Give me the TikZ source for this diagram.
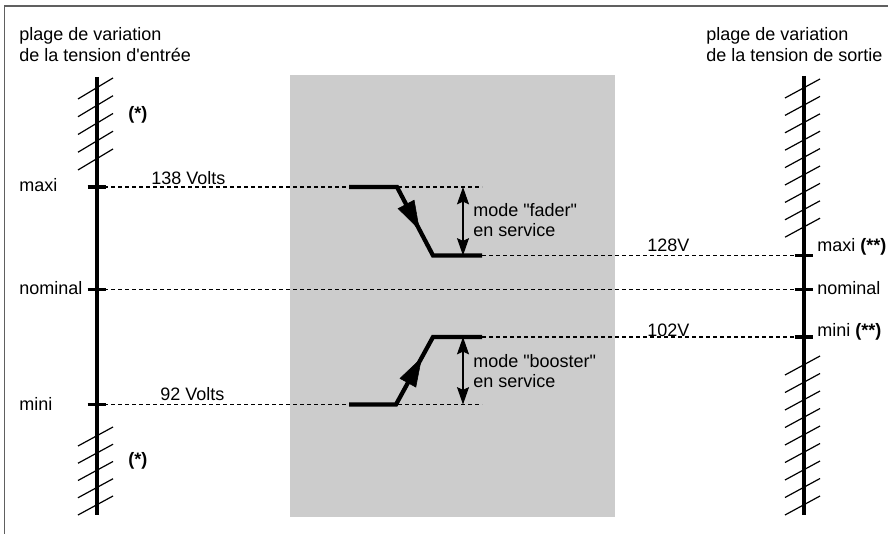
\documentclass[tikz,border=0pt]{standalone}
\usepackage{fontspec}
\setmainfont{Liberation Sans}
\usetikzlibrary{arrows.meta,decorations.markings}
\definecolor{panel}{HTML}{CCCCCC}
\definecolor{framecol}{HTML}{606060}
\newcommand{\dq}{\textquotedbl}
\begin{document}
\begin{tikzpicture}[x=0.75pt,y=-0.75pt,
  txt/.style={inner sep=0pt, anchor=base west, font=\fontsize{13.5}{16}\selectfont},
  axisline/.style={line width=2.4pt},
  hatchline/.style={line width=0.9pt},
  dashline/.style={line width=0.85pt, dash pattern=on 3pt off 2.25pt},
  modeline/.style={line width=3.2pt},
  tickmark/.style={line width=2.4pt},
  dimarrow/.style={line width=0.8pt, {Stealth[length=13pt,width=9pt,inset=2pt]}-{Stealth[length=13pt,width=9pt,inset=2pt]}},
]
\useasboundingbox (0,0) rectangle (888,534);
% frame
\draw[framecol, line width=1.1pt] (4.5,534) -- (4.5,6) -- (888,6);
% grey panel
\fill[panel] (290,75) rectangle (615,517);

% coordinates
\coordinate (LT) at (97,77);   \coordinate (LB) at (97,515);
\coordinate (RT) at (804,76);  \coordinate (RB) at (804,515);
\coordinate (Lmax) at (97,187);  \coordinate (Lnom) at (97,289.5); \coordinate (Lmin) at (97,404.5);
\coordinate (Rmax) at (804,255.5); \coordinate (Rnom) at (804,289.5); \coordinate (Rmin) at (804,337);
\coordinate (fa) at (349,187); \coordinate (fb) at (397,187); \coordinate (fc) at (433,255.5); \coordinate (fd) at (482,255.5);
\coordinate (fe) at (482,187);
\coordinate (ba) at (349,404.5); \coordinate (bb) at (396,404.5); \coordinate (bc) at (433,337); \coordinate (bd) at (482,337);
\coordinate (be) at (482,404.5);

% dashed lines
\draw[dashline] (Lmax) -- (fe);
\draw[dashline] (fd) -- (Rmax);
\draw[dashline] (Lnom) -- (Rnom);
\draw[dashline] (bd) -- (Rmin);
\draw[dashline] (Lmin) -- (be);

% axes
\draw[axisline] (LT) -- (LB);
\draw[axisline] (RT) -- (RB);
% ticks
\foreach \c in {Lmax,Lnom,Lmin,Rmax,Rnom,Rmin}
  \draw[tickmark] ([xshift=-7]\c) -- ([xshift=7]\c);

% hatches left
\foreach \k in {0,...,4}
  \draw[hatchline] (78,{99+17.75*\k}) -- (113,{78+17.75*\k});
\foreach \k in {0,...,4}
  \draw[hatchline] (78,{446+17.25*\k}) -- (113,{427+17.25*\k});
% hatches right
\foreach \k in {0,...,8}
  \draw[hatchline] (785,{98+17.4*\k}) -- (820,{79+17.4*\k});
\foreach \k in {0,...,8}
  \draw[hatchline] (785,{375+17.5*\k}) -- (820,{356+17.5*\k});

% fader / booster paths
\draw[modeline, line join=miter] (fa) -- (fb) -- (fc) -- (fd);
\path[postaction={decorate}, decoration={markings, mark=at position 0.63 with {\arrow{Triangle[length=22pt,width=14pt]}}}] (fb) -- (fc);
\draw[modeline, line join=miter] (ba) -- (bb) -- (bc) -- (bd);
\path[postaction={decorate}, decoration={markings, mark=at position 0.70 with {\arrow{Triangle[length=22pt,width=14pt]}}}] (bb) -- (bc);

% dimension arrows
\draw[dimarrow] (463,187) -- (463,255.5);
\draw[dimarrow] (463,337) -- (463,404.5);

% texts
\node[txt] (h1) at (19,41) {plage de variation};
\node[txt] (h2) at (19,62) {de la tension d\textquotesingle entrée};
\node[txt] (h3) at (706,41) {plage de variation};
\node[txt] (h4) at (706,62) {de la tension de sortie};
\node[txt] (s1) at (128,120) {\textbf{(*)}};
\node[txt] (s2) at (128,465) {\textbf{(*)}};
\node[txt] (lmax) at (19,192) {maxi};
\node[txt] (lnom) at (19,295) {nominal};
\node[txt] (lmin) at (19,410) {mini};
\node[txt] (v138) at (151,185) {138 Volts};
\node[txt] (v92) at (160,400) {92 Volts};
\node[txt] (v128) at (647,252) {128V};
\node[txt] (v102) at (647,337) {102V};
\node[txt] (rmax) at (817,252) {maxi \textbf{(**)}};
\node[txt] (rnom) at (817,295) {nominal};
\node[txt] (rmin) at (817,337) {mini \textbf{(**)}};
\node[txt] (m1) at (473,217) {mode \dq fader\dq};
\node[txt] (m2) at (473,237) {en service};
\node[txt] (m3) at (473,368) {mode \dq booster\dq};
\node[txt] (m4) at (473,387) {en service};
\end{tikzpicture}
\end{document}
